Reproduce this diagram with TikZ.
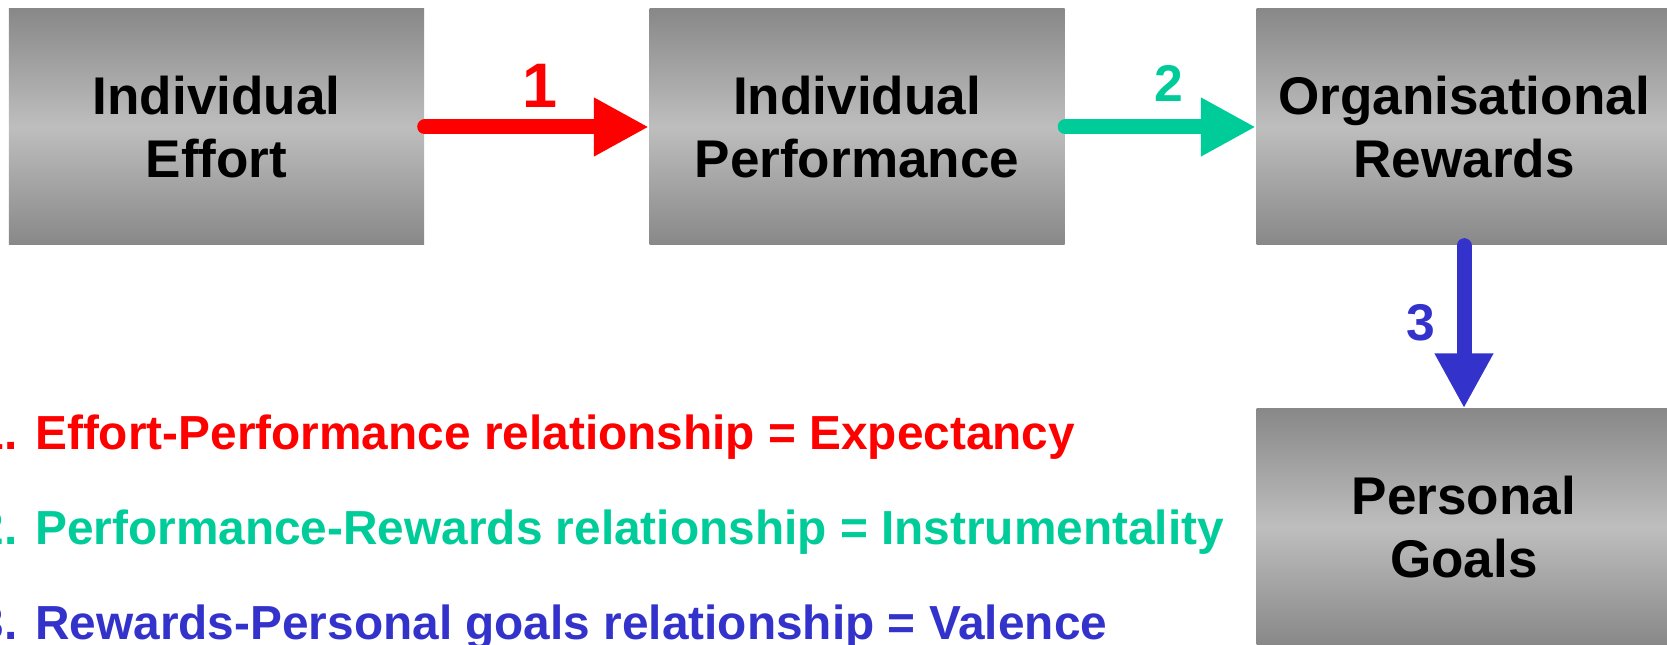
\documentclass[tikz,border=0pt]{standalone}
\usepackage{fontspec}
\setmainfont{Liberation Sans}
\usetikzlibrary{arrows.meta,positioning}
\definecolor{box-dark}{HTML}{888888}
\definecolor{box-light}{HTML}{BEBEBE}
\definecolor{link-red}{HTML}{FF0000}
\definecolor{link-green}{HTML}{00CC99}
\definecolor{link-blue}{HTML}{3333CC}

\begin{document}
\begin{tikzpicture}[
    box/.style={minimum width=4.15cm, minimum height=2.36cm, align=center, inner sep=0pt,
        top color=box-dark, bottom color=box-dark, middle color=box-light,
        font=\fontsize{15.1}{17.9}\selectfont\bfseries},
    link/.style={line width=0.15cm, line cap=round, -{Triangle[length=0.55cm, width=0.55cm]}},
    num/.style={inner sep=0pt, font=\fontsize{14.7}{16}\selectfont\bfseries},
    legend/.style={anchor=base west, inner sep=0pt, font=\fontsize{13.6}{16}\selectfont\bfseries}]

    \useasboundingbox (0,0) rectangle (16.67,-6.45);

    \node[box] (effort) at (2.165, -1.27) {Individual\\Effort};
    \node[box] (perf) at (8.57, -1.27) {Individual\\Performance};
    \node[box] (rewards) at (14.64, -1.27) {Organisational\\Rewards};
    \node[box] (goals) at (14.64, -5.27) {Personal\\Goals};

    \draw[link, link-red] (effort) -- node[num, midway, anchor=base, xshift=0.03cm, yshift=0.19cm,
        font=\fontsize{17.9}{19}\selectfont\bfseries] (one) {1} (perf);
    \draw[link, link-green] (perf) -- node[num, midway, anchor=base, xshift=0.08cm, yshift=0.25cm] (two) {2} (rewards);
    \draw[link, link-blue] (rewards) -- node[num, midway, anchor=east, xshift=-0.21cm, yshift=0.04cm] (three) {3} (goals);

    \node[legend, text=link-red] (expect) at (-0.23, -4.50) {1. Effort-Performance relationship = Expectancy};
    \node[legend, text=link-green] (instr) at (-0.23, -5.45) {2. Performance-Rewards relationship = Instrumentality};
    \node[legend, text=link-blue] (valence) at (-0.23, -6.40) {3. Rewards-Personal goals relationship = Valence};
\end{tikzpicture}
\end{document}
